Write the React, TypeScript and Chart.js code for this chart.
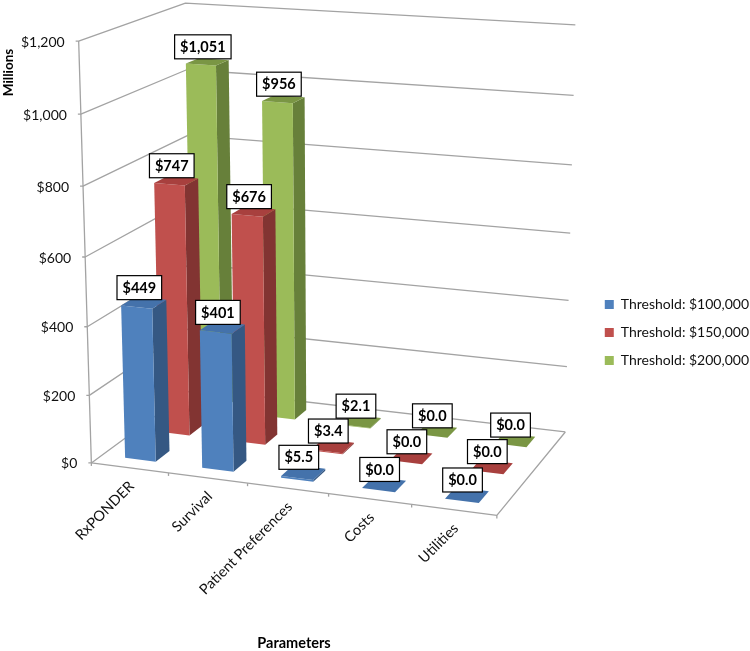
import React, { useEffect, useRef } from "react";
import { Chart, registerables, BarController } from "chart.js";

const categories = ["RxPONDER", "Survival", "Patient Preferences", "Costs", "Utilities"];
const seriesNames = ["Threshold: $100,000", "Threshold: $150,000", "Threshold: $200,000"];
const threshold100k = [449, 401, 5.5, 0, 0];
const threshold150k = [747, 676, 3.4, 0, 0];
const threshold200k = [1051, 956, 2.1, 0, 0];
const valueTicksMax = 1200;
const valueStep = 200;

const FONT = "Lato, 'Open Sans', sans-serif";
const faceColors = ["#4F81BD", "#C0504D", "#9BBB59"];
const sideColors = ["#355883", "#823432", "#67803A"];
const topColors = ["#4472AB", "#A8403E", "#7A9644"];
const GRID = "#A3A3A3";
const GAP = 1.5; // gap width, as in the source's 150%

// Camera calibration: [along categories, along depth, up the value axis, screen x, screen y]
const calibration = [
  [0, 0, 0, 91, 462], [0, 0, 1 / 3, 86.5, 326], [0, 0, 2 / 3, 83, 186], [0, 0, 1, 80, 41.5],
  [1, 1, 0, 565, 432], [1, 1, 1 / 3, 568, 300], [1, 1, 2 / 3, 572, 165], [1, 1, 1, 576, 25],
  [0.2, 0, 0, 168, 473], [0.4, 0, 0, 248, 484], [0.6, 0, 0, 328, 495], [0.8, 0, 0, 412, 505], [1, 0, 0, 497, 514],
  [0, 1, 1, 184, 3], [0, 1, 0, 194, 389],
];

function solveCamera(points: number[][]) {
  const n = 11;
  const A = Array.from({ length: n }, () => new Array(n + 1).fill(0));
  const add = (row: number[], rhs: number) => {
    for (let i = 0; i < n; i++) {
      for (let j = 0; j < n; j++) A[i][j] += row[i] * row[j];
      A[i][n] += row[i] * rhs;
    }
  };
  for (const [X, Y, Z, sx0, sy0] of points) {
    const sx = sx0 / 500, sy = sy0 / 500;
    add([X, Y, Z, 1, 0, 0, 0, 0, -sx * X, -sx * Y, -sx * Z], sx);
    add([0, 0, 0, 0, X, Y, Z, 1, -sy * X, -sy * Y, -sy * Z], sy);
  }
  for (let c = 0; c < n; c++) {
    let p = c;
    for (let r = c + 1; r < n; r++) if (Math.abs(A[r][c]) > Math.abs(A[p][c])) p = r;
    [A[c], A[p]] = [A[p], A[c]];
    for (let r = 0; r < n; r++) {
      if (r === c) continue;
      const f = A[r][c] / A[c][c];
      for (let k = c; k <= n; k++) A[r][k] -= f * A[c][k];
    }
  }
  return A.map((row, i) => row[n] / row[i]);
}
const cam = solveCamera(calibration);
function project(u: number, d: number, w: number): [number, number] {
  const den = cam[8] * u + cam[9] * d + cam[10] * w + 1;
  return [
    (500 * (cam[0] * u + cam[1] * d + cam[2] * w + cam[3])) / den,
    (500 * (cam[4] * u + cam[5] * d + cam[6] * w + cam[7])) / den,
  ];
}
function poly(ctx: CanvasRenderingContext2D, pts: [number, number][], fill: string) {
  ctx.beginPath();
  pts.forEach((p, i) => (i ? ctx.lineTo(p[0], p[1]) : ctx.moveTo(p[0], p[1])));
  ctx.closePath();
  ctx.fillStyle = fill;
  ctx.fill();
}
function seg(ctx: CanvasRenderingContext2D, pts: [number, number][]) {
  ctx.beginPath();
  pts.forEach((p, i) => (i ? ctx.lineTo(p[0], p[1]) : ctx.moveTo(p[0], p[1])));
  ctx.stroke();
}
const uOf = (chart: any, px: number) => (px - chart.chartArea.left) / chart.chartArea.width;
const wOf = (chart: any, py: number) => (chart.chartArea.bottom - py) / chart.chartArea.height;
const fmtValue = (v: number) => (v < 100 ? "$" + v.toFixed(1) : "$" + v.toLocaleString("en-US"));

class Bar3DController extends BarController {
  static id = "bar3d";
  static defaults = BarController.defaults;
  static overrides = BarController.overrides;
  draw() {
    const chart: any = this.chart;
    const ctx = chart.ctx;
    const meta: any = this._cachedMeta;
    const s = meta.index;
    const nCat = categories.length, nSer = chart.data.datasets.length;
    const halfU = 0.5 / nCat / (1 + GAP);
    const halfD = 0.5 / nSer / (1 + GAP);
    const dc = (s + 0.5) / nSer;
    const d0 = dc - halfD, d1 = dc + halfD;
    meta.data.forEach((_: any, i: number) => {
      const v = this.getParsed(i).y as number;
      const uc = uOf(chart, meta.iScale.getPixelForValue(i));
      const w = wOf(chart, meta.vScale.getPixelForValue(v));
      const u0 = uc - halfU, u1 = uc + halfU;
      poly(ctx, [project(u1, d0, 0), project(u1, d1, 0), project(u1, d1, w), project(u1, d0, w)], sideColors[s]);
      poly(ctx, [project(u0, d0, 0), project(u1, d0, 0), project(u1, d0, w), project(u0, d0, w)], faceColors[s]);
      poly(ctx, [project(u0, d0, w), project(u1, d0, w), project(u1, d1, w), project(u0, d1, w)], topColors[s]);
    });
  }
}

const wallsPlugin = {
  id: "walls3d",
  afterLayout(chart: any) {
    chart.legend.left += 9;
  },
  beforeDatasetsDraw(chart: any) {
    const ctx = chart.ctx;
    const y = chart.scales.y, x = chart.scales.x;
    ctx.save();
    ctx.strokeStyle = GRID;
    ctx.lineWidth = 1.3;
    ctx.lineJoin = "round";
    for (const t of y.ticks) {
      const w = wOf(chart, y.getPixelForValue(t.value));
      const a = project(0, 0, w), b = project(0, 1, w), c = project(1, 1, w);
      seg(ctx, [[a[0] - 3, a[1]], a, b, c]);
      ctx.fillStyle = "#111";
      ctx.font = `14px ${FONT}`;
      ctx.textAlign = "right";
      ctx.textBaseline = "middle";
      ctx.fillText(t.label, a[0] - 14, a[1] + 1);
    }
    seg(ctx, [project(0, 0, 0), project(0, 0, 1)]);
    seg(ctx, [project(0, 0, 0), project(1, 0, 0), project(1, 1, 0)]);
    categories.forEach((name, i) => {
      const lo = uOf(chart, x.getPixelForValue(i)) - 0.5 / categories.length;
      const t = project(lo, 0, 0);
      seg(ctx, [t, [t[0], t[1] + 3]]);
    });
    const e = project(1, 0, 0);
    seg(ctx, [e, [e[0], e[1] + 3]]);
    ctx.restore();
  },
  afterDatasetsDraw(chart: any) {
    const ctx = chart.ctx;
    const x = chart.scales.x;
    ctx.save();
    // category labels
    ctx.font = `14.5px ${FONT}`;
    ctx.fillStyle = "#111";
    x.getLabels().forEach((name: string, i: number) => {
      const p = project(uOf(chart, x.getPixelForValue(i)), 0, 0);
      ctx.save();
      ctx.translate(p[0] + 2, p[1] + 16);
      ctx.rotate(-Math.PI / 4);
      ctx.textAlign = "right";
      ctx.textBaseline = "middle";
      ctx.fillText(name, 0, 0);
      ctx.restore();
    });
    // value labels
    const nSer = chart.data.datasets.length;
    ctx.font = `bold 14.5px ${FONT}`;
    ctx.textAlign = "center";
    ctx.textBaseline = "middle";
    chart.data.datasets.forEach((ds: any, s: number) => {
      const meta = chart.getDatasetMeta(s);
      ds.data.forEach((v: number, i: number) => {
        const uc = uOf(chart, meta.iScale.getPixelForValue(i));
        const w = wOf(chart, meta.vScale.getPixelForValue(v));
        const p = project(uc, (s + 0.5) / nSer, w);
        const txt = fmtValue(v);
        const bw = ctx.measureText(txt).width + 11;
        const bh = 24;
        const cx = p[0] - 4.5, cy = p[1] - 15;
        ctx.fillStyle = "#fff";
        ctx.strokeStyle = "#000";
        ctx.lineWidth = 1.2;
        ctx.fillRect(cx - bw / 2, cy - bh / 2, bw, bh);
        ctx.strokeRect(cx - bw / 2, cy - bh / 2, bw, bh);
        ctx.fillStyle = "#000";
        ctx.fillText(txt, cx, cy + 0.5);
      });
    });
    // axis titles
    ctx.fillStyle = "#000";
    ctx.font = `bold 14.5px ${FONT}`;
    ctx.fillText("Parameters", 294, 643);
    ctx.save();
    ctx.font = `bold 13.5px ${FONT}`;
    ctx.translate(9, 72.5);
    ctx.rotate(-Math.PI / 2);
    ctx.fillText("Millions", 0, 0);
    ctx.restore();
    ctx.restore();
  },
};

Chart.register(...registerables, Bar3DController);

export default function App() {
  const ref = useRef<HTMLCanvasElement>(null);
  useEffect(() => {
    const chart = new Chart(ref.current!, {
      type: "bar3d" as any,
      data: {
        labels: categories,
        datasets: [threshold100k, threshold150k, threshold200k].map((data, i) => ({
          label: seriesNames[i],
          data,
          backgroundColor: faceColors[i],
          borderWidth: 0,
        })),
      },
      options: {
        responsive: false,
        animation: false,
        layout: { padding: { top: 14, right: 0, bottom: 0, left: 0 } },
        scales: {
          x: { type: "category", ticks: { display: false }, grid: { display: false }, border: { display: false } },
          y: {
            min: 0,
            max: valueTicksMax,
            ticks: { display: false, stepSize: valueStep, callback: (v: any) => "$" + Number(v).toLocaleString("en-US") },
            grid: { display: false },
            border: { display: false },
          },
        },
        plugins: {
          legend: {
            position: "right",
            labels: {
              boxWidth: 9,
              boxHeight: 9,
              padding: 14,
              color: "#111",
              font: { family: FONT, size: 14 },
            },
          },
          tooltip: { enabled: false },
        },
      } as any,
      plugins: [wallsPlugin],
    });
    return () => chart.destroy();
  }, []);
  return (
    <div style={{ position: "absolute", left: 0, top: 0, width: 750, height: 651, background: "#fff" }}>
      <canvas ref={ref} width={750} height={651} style={{ display: "block" }} />
    </div>
  );
}
